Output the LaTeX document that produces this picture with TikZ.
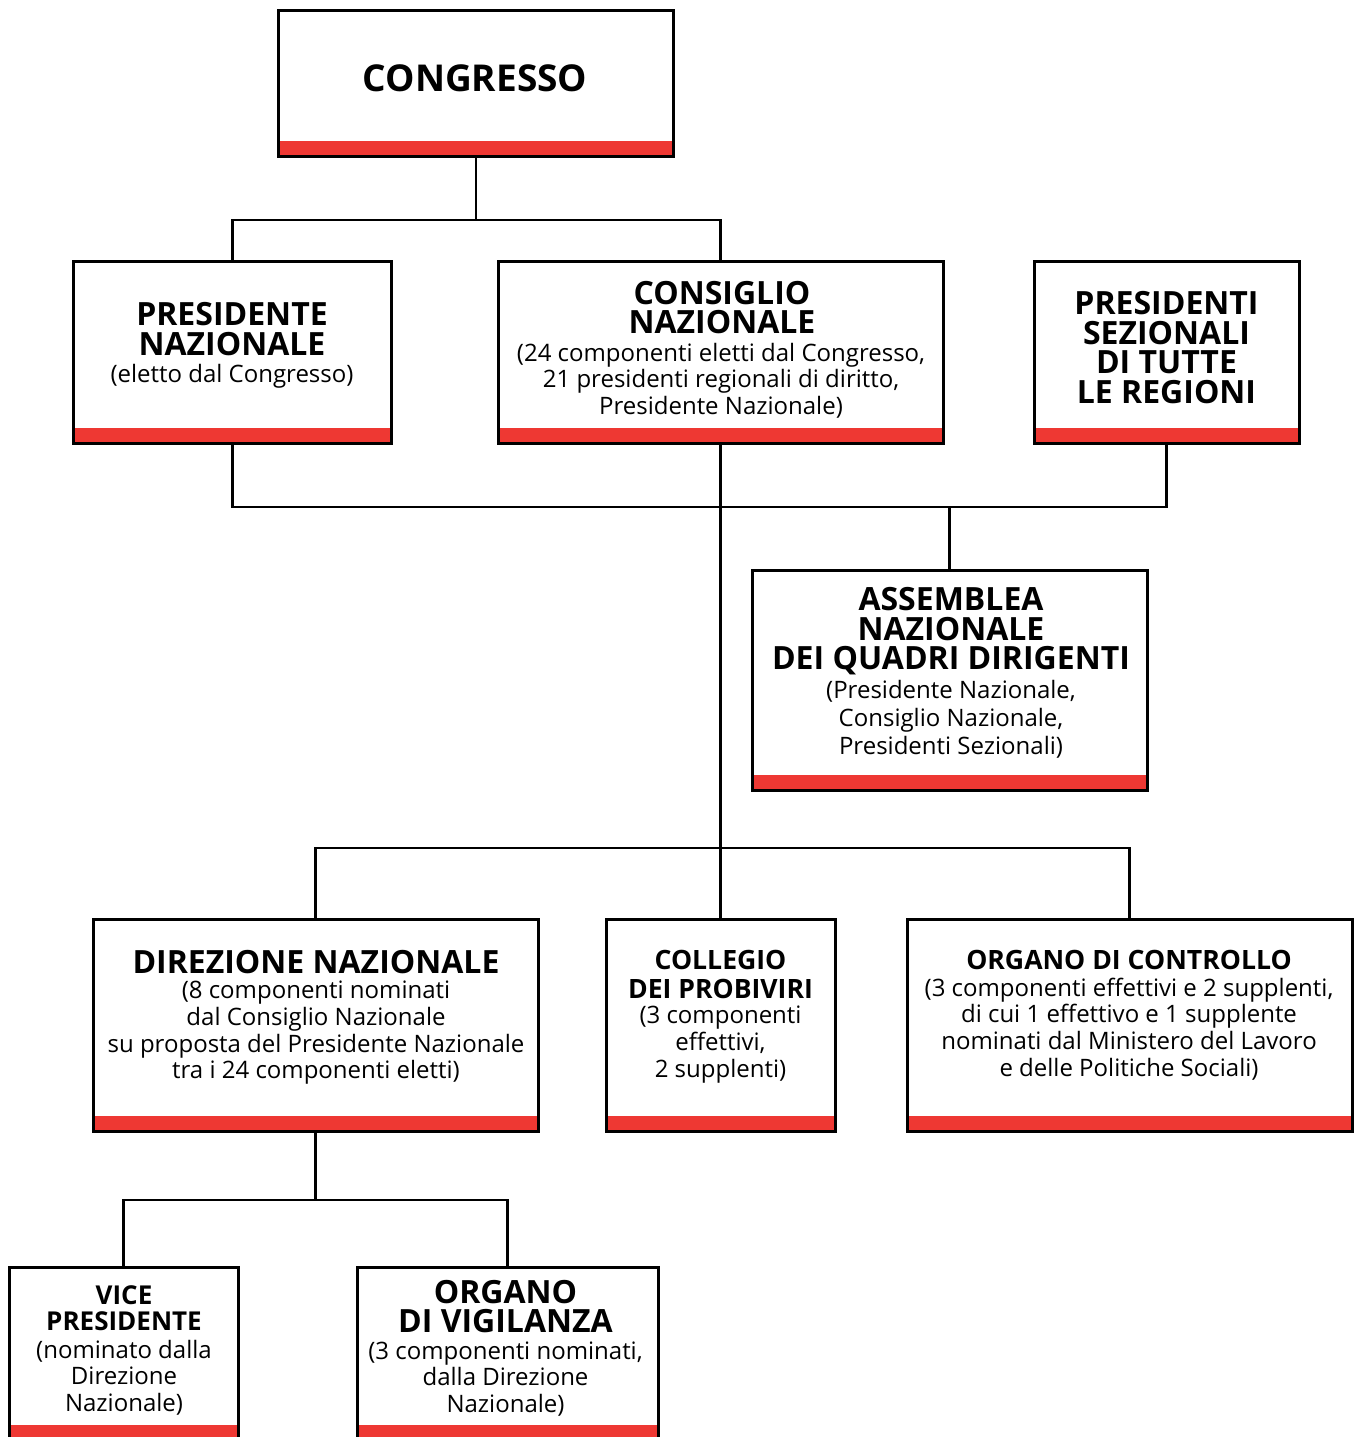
\documentclass[tikz,border=0pt]{standalone}
\usepackage{fontspec}
\setmainfont{Open Sans}
\definecolor{barred}{HTML}{EE3833}
\begin{document}
\begin{tikzpicture}[x=1pt,y=-1pt,
  box/.style={draw=black, line width=3pt, fill=white, inner sep=0pt,
    path picture={\fill[barred] (path picture bounding box.south west) rectangle ([yshift=15.5pt]path picture bounding box.south east);}},
  conn/.style={line width=2.6pt},
  ttl/.style={inner sep=0pt, align=center, font=\bfseries\fontsize{32}{29.5}\selectfont},
  sttl/.style={inner sep=0pt, align=center, font=\bfseries\fontsize{26.6}{29}\selectfont},
  sub/.style={inner sep=0pt, align=center, font=\fontsize{24}{26.5}\selectfont}
]
\useasboundingbox (0,0) rectangle (1361,1437);
\clip (0,0) rectangle (1361,1437);
\fill[white] (0,0) rectangle (1361,1437);

% junctions
\coordinate (j1) at (476,220);
\coordinate (j2) at (949.5,507);
\coordinate (j3) at (720.5,848);
\coordinate (j4) at (315.5,1200);

% boxes
\node[box, minimum width=395pt, minimum height=146pt] (congresso) at (476,83.5) {};
\node[box, minimum width=318pt, minimum height=182pt] (presnaz) at (232.5,352.5) {};
\node[box, minimum width=445pt, minimum height=182pt] (consiglio) at (720.5,352.5) {};
\node[box, minimum width=265pt, minimum height=182pt] (presez) at (1166.5,352.5) {};
\node[box, minimum width=395pt, minimum height=220pt] (assemblea) at (949.5,680.5) {};
\node[box, minimum width=445pt, minimum height=212pt] (direzione) at (315.5,1025.5) {};
\node[box, minimum width=229pt, minimum height=212pt] (collegio) at (720.5,1025.5) {};
\node[box, minimum width=445pt, minimum height=212pt] (controllo) at (1129.5,1025.5) {};
\node[box, minimum width=229pt, minimum height=173pt] (vice) at (123.5,1354) {};
\node[box, minimum width=301pt, minimum height=173pt] (vigilanza) at (507.5,1354) {};

% connectors
\draw[conn] (congresso.south) -- (j1);
\draw[conn] (presnaz.north) |- (j1);
\draw[conn] (consiglio.north) |- (j1);
\draw[conn] (presnaz.south) |- (j2);
\draw[conn] (presez.south) |- (j2);
\draw[conn] (j2) -- (assemblea.north);
\draw[conn] (consiglio.south) -- (j3);
\draw[conn] (direzione.north) |- (j3);
\draw[conn] (controllo.north) |- (j3);
\draw[conn] (j3) -- (collegio.north);
\draw[conn] (direzione.south) -- (j4);
\draw[conn] (vice.north) |- (j4);
\draw[conn] (vigilanza.north) |- (j4);

% texts
\node[ttl, font=\bfseries\fontsize{37}{40}\selectfont] (congresso-t) at (475,78.5) {CONGRESSO};

\node[ttl] (presnaz-t) at (232,329) {PRESIDENTE\\NAZIONALE};
\node[sub] (presnaz-s) at (232,376) {(eletto dal Congresso)};

\node[ttl] (consiglio-t) at (722,307.5) {CONSIGLIO\\NAZIONALE};
\node[sub] (consiglio-s) at (721,380.5) {(24 componenti eletti dal Congresso,\\21 presidenti regionali di diritto,\\Presidente Nazionale)};

\node[ttl] (presez-t) at (1166.5,347.5) {PRESIDENTI\\SEZIONALI\\DI TUTTE\\LE REGIONI};

\node[ttl] (assemblea-t) at (951,631.5) {ASSEMBLEA\\NAZIONALE\\DEI QUADRI DIRIGENTI};
\node[sub, font=\fontsize{24}{28}\selectfont] (assemblea-s) at (951,719.5) {(Presidente Nazionale,\\Consiglio Nazionale,\\Presidenti Sezionali)};

\node[ttl] (direzione-t) at (316,962.5) {DIREZIONE NAZIONALE};
\node[sub, font=\fontsize{24}{26.7}\selectfont] (direzione-s) at (316,1033) {(8 componenti nominati\\dal Consiglio Nazionale\\su proposta del Presidente Nazionale\\tra i 24 componenti eletti)};

\node[sttl] (collegio-t) at (720.5,974) {COLLEGIO\\DEI PROBIVIRI};
\node[sub, font=\fontsize{24}{27}\selectfont] (collegio-s) at (720.5,1045) {(3 componenti\\effettivi,\\2 supplenti)};

\node[sttl] (controllo-t) at (1129,959.5) {ORGANO DI CONTROLLO};
\node[sub, font=\fontsize{24}{26.7}\selectfont] (controllo-s) at (1129,1029) {(3 componenti effettivi e 2 supplenti,\\di cui 1 effettivo e 1 supplente\\nominati dal Ministero del Lavoro\\e delle Politiche Sociali)};

\node[sttl, font=\bfseries\fontsize{26}{26}\selectfont] (vice-t) at (124,1308.5) {VICE\\PRESIDENTE};
\node[sub] (vice-s) at (124,1377.5) {(nominato dalla\\Direzione\\Nazionale)};

\node[ttl, font=\bfseries\fontsize{32}{29}\selectfont] (vigilanza-t) at (505.5,1307) {ORGANO\\DI VIGILANZA};
\node[sub] (vigilanza-s) at (505.5,1379) {(3 componenti nominati,\\dalla Direzione\\Nazionale)};
\end{tikzpicture}
\end{document}
